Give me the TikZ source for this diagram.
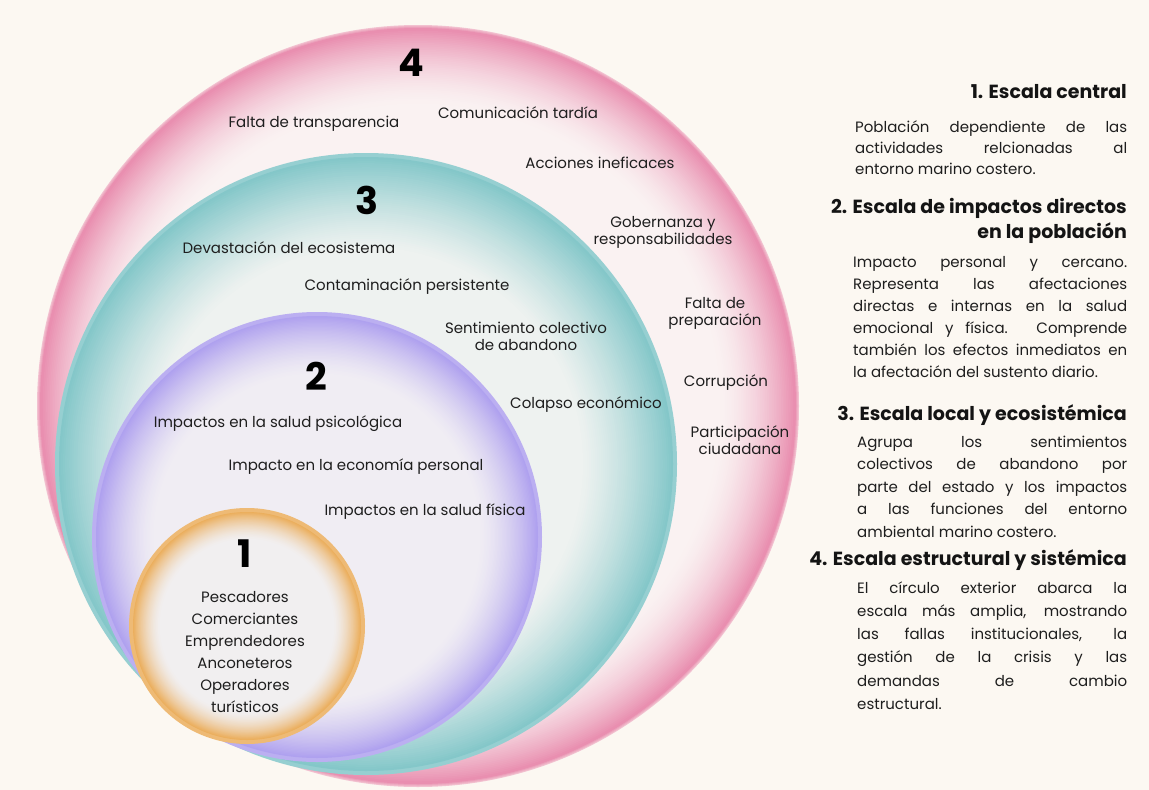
\documentclass[tikz,border=0pt]{standalone}
\usepackage{fontspec}
\setmainfont{Poppins}
\definecolor{bgc}{HTML}{FCF8F2}
\definecolor{txt}{HTML}{1E1E1E}
\definecolor{pkc}{HTML}{FAF2F2}
\definecolor{pke}{HTML}{E98FB0}
\definecolor{tlc}{HTML}{EEF2F0}
\definecolor{tle}{HTML}{84C7C9}
\definecolor{puc}{HTML}{F0EDF3}
\definecolor{pue}{HTML}{AFA1EF}
\definecolor{orc}{HTML}{F1EFF0}
\definecolor{ore}{HTML}{EBAE5C}
% cx, cy, radius, fade width, exponent, edge colour, centre colour, outside colour
\newcommand{\ringdisk}[8]{%
  \foreach \j in {0,...,3}{%
    \pgfmathsetmacro\rr{#3-\j}%
    \pgfmathtruncatemacro\qq{52+16*\j}%
    \fill[#6!\qq!#8] (#1,#2) circle[radius=\rr pt];
  }%
  \foreach \i in {0,...,45}{%
    \pgfmathsetmacro\rr{#3-4-\i*#4/45}%
    \pgfmathtruncatemacro\pp{100*(1-\i/45)^#5}%
    \fill[#6!\pp!#7] (#1,#2) circle[radius=\rr pt];
  }%
}
\tikzset{
  lbl/.style={font=\fontsize{15}{17}\selectfont, text=txt, inner sep=0pt, anchor=base},
  num/.style={font=\fontsize{38}{38}\selectfont\bfseries, text=black, inner sep=0pt, anchor=center},
  head/.style={font=\fontsize{19}{25}\selectfont\bfseries, text=black!92, inner sep=0pt, anchor=base east},
  para/.style={text=txt, inner sep=0pt, anchor=base west}
}
\newcommand{\jl}[1]{\makebox[\linewidth][s]{#1}\\}
\newcommand{\ml}[2]{\parbox[t]{220pt}{\centering #1\\#2}}
\begin{document}
\begin{tikzpicture}[x=1pt,y=-1pt]
\fill[bgc] (0,0) rectangle (1149,790);
\useasboundingbox (0,0) rectangle (1149,790);
% circles
\ringdisk{418}{406}{381}{78}{1.7}{pke}{pkc}{bgc}
\ringdisk{366}{464}{311}{92}{1.25}{tle}{tlc}{tle!85!white}
\ringdisk{317}{537}{225}{60}{1.5}{pue}{puc}{pue!85!white}
\ringdisk{247}{626}{118}{28}{1.6}{ore}{orc}{ore!85!white}
% numbers
\node[num] (n4) at (411,63) {4};
\node[num] (n3) at (367,200) {3};
\node[num] (n2) at (316,376) {2};
\node[num] (n1) at (245,554) {1};
% scale 4
\node[lbl] (transp) at (314,127) {Falta de transparencia};
\node[lbl] (comun) at (518,118) {Comunicación tardía};
\node[lbl] (accion) at (600,168) {Acciones ineficaces};
\node[lbl] (gober) at (663,227) {\ml{Gobernanza y}{responsabilidades}};
\node[lbl] (prep) at (715,308) {\ml{Falta de}{preparación}};
\node[lbl] (corr) at (726,386) {Corrupción};
\node[lbl] (part) at (740,437) {\ml{Participación}{ciudadana}};
% scale 3
\node[lbl] (devas) at (289,253) {Devastación del ecosistema};
\node[lbl] (conta) at (407,290) {Contaminación persistente};
\node[lbl] (senti) at (526,333) {\ml{Sentimiento colectivo}{de abandono}};
\node[lbl] (colap) at (586,408) {Colapso económico};
% scale 2
\node[lbl] (psico) at (278,427) {Impactos en la salud psicológica};
\node[lbl] (econ) at (356,470) {Impacto en la economía personal};
\node[lbl] (fisica) at (425,515) {Impactos en la salud física};
% scale 1
\node[lbl, font=\fontsize{15}{22}\selectfont] (pobl) at (245,602) {\parbox[t]{200pt}{\centering Pescadores\\Comerciantes\\Emprendedores\\Anconeteros\\Operadores\\turísticos}};
% right column
\node[head] (h1) at (1127,98) {1. Escala central};
\node[para] (p1) at (855,132) {\parbox[t]{272pt}{\fontsize{15}{21}\selectfont
\jl{Población dependiente de las}
\jl{actividades relcionadas al}
entorno marino costero.}};
\node[head] (h2) at (1127,213) {\parbox[t]{340pt}{\raggedleft 2. Escala de impactos directos\\en la población}};
\node[para] (p2) at (853,267) {\parbox[t]{274pt}{\fontsize{15}{22}\selectfont
\jl{Impacto personal y cercano.}
\jl{Representa las afectaciones}
\jl{directas e internas en la salud}
\jl{emocional y física. Comprende}
\jl{también los efectos inmediatos en}
la afectación del sustento diario.}};
\node[head] (h3) at (1127,420) {3. Escala local y ecosistémica};
\node[para] (p3) at (857,447) {\parbox[t]{270pt}{\fontsize{15}{22.5}\selectfont
\jl{Agrupa los sentimientos}
\jl{colectivos de abandono por}
\jl{parte del estado y los impactos}
\jl{a las funciones del entorno}
ambiental marino costero.}};
\node[head] (h4) at (1127,565) {4. Escala estructural y sistémica};
\node[para] (p4) at (857,593) {\parbox[t]{270pt}{\fontsize{15}{23.3}\selectfont
\jl{El círculo exterior abarca la}
\jl{escala más amplia, mostrando}
\jl{las fallas institucionales, la}
\jl{gestión de la crisis y las}
\jl{demandas de cambio}
estructural.}};
\end{tikzpicture}
\end{document}
